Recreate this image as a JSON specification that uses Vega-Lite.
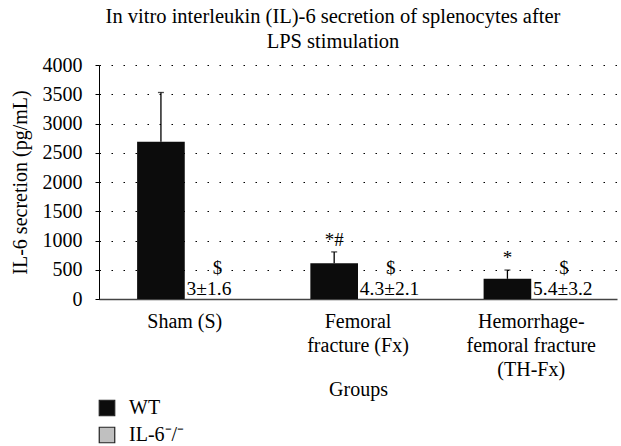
{
  "$schema": "https://vega.github.io/schema/vega-lite/v6.json",
  "width": 518,
  "height": 234,
  "autosize": {"type": "none"},
  "padding": {"left": 99, "top": 65, "right": 4, "bottom": 147},
  "background": "white",
  "title": {
    "text": ["In vitro interleukin (IL)-6 secretion of splenocytes after", "LPS stimulation"],
    "font": "Liberation Serif",
    "fontSize": 20.5,
    "fontWeight": "normal",
    "color": "black",
    "anchor": "middle",
    "dx": -25,
    "offset": 3,
    "lineHeight": 25
  },
  "config": {
    "view": {"stroke": null},
    "font": "Liberation Serif",
    "axis": {"labelFont": "Liberation Serif", "titleFont": "Liberation Serif", "labelColor": "black", "titleColor": "black", "titleFontWeight": "normal"},
    "axisY": {
      "titleFontSize": 20,
      "titlePadding": 12,
      "labelFontSize": 20,
      "labelOverlap": false,
      "labelFlush": false,
      "tickCount": 8,
      "format": "d",
      "domainColor": "black",
      "tickColor": "black",
      "tickSize": 4,
      "labelPadding": 13,
      "labelBaseline": "middle",
      "grid": true,
      "gridColor": "black",
      "gridDash": [1.5, 10.5],
      "gridWidth": 1.2
    },
    "legend": {"labelFont": "Liberation Serif"}
  },
  "data": {
    "values": [
      {"group": "Sham (S)", "genotype": "WT", "value": 2690, "err": 840, "sig": "", "label": ""},
      {"group": "Sham (S)", "genotype": "IL-6⁻/⁻", "value": 3, "err": 1.6, "sig": "$", "label": "3±1.6"},
      {"group": "Femoral fracture (Fx)", "genotype": "WT", "value": 610, "err": 195, "sig": "*#", "label": ""},
      {"group": "Femoral fracture (Fx)", "genotype": "IL-6⁻/⁻", "value": 4.3, "err": 2.1, "sig": "$", "label": "4.3±2.1"},
      {"group": "Hemorrhage-femoral fracture (TH-Fx)", "genotype": "WT", "value": 345, "err": 150, "sig": "*", "label": ""},
      {"group": "Hemorrhage-femoral fracture (TH-Fx)", "genotype": "IL-6⁻/⁻", "value": 5.4, "err": 3.2, "sig": "$", "label": "5.4±3.2"}
    ]
  },
  "transform": [{"calculate": "datum.value + datum.err", "as": "upper"}],
  "encoding": {
    "x": {
      "field": "group",
      "type": "nominal",
      "sort": ["Sham (S)", "Femoral fracture (Fx)", "Hemorrhage-femoral fracture (TH-Fx)"],
      "scale": {"paddingInner": 0.45, "paddingOuter": 0.22},
      "axis": {
        "title": "Groups",
        "titleFontSize": 20,
        "titlePadding": 0,
        "labelFontSize": 20,
        "labelAngle": 0,
        "labelPadding": 12,
        "labelLineHeight": 24,
        "ticks": false,
        "domainColor": "#444",
        "domainWidth": 1.5,
        "grid": false,
        "labelExpr": "datum.value == 'Femoral fracture (Fx)' ? ['Femoral', 'fracture (Fx)'] : datum.value == 'Hemorrhage-femoral fracture (TH-Fx)' ? ['Hemorrhage-', 'femoral fracture', '(TH-Fx)'] : datum.value"
      }
    },
    "xOffset": {"field": "genotype", "type": "nominal", "sort": ["WT", "IL-6⁻/⁻"], "scale": {"paddingInner": 0, "paddingOuter": 0}},
    "y": {
      "field": "value",
      "type": "quantitative",
      "title": "IL-6 secretion (pg/mL)",
      "scale": {"domain": [0, 4000], "nice": false}
    }
  },
  "layer": [
    {
      "mark": {"type": "bar", "strokeWidth": 0},
      "encoding": {
        "fill": {
          "field": "genotype",
          "type": "nominal",
          "sort": ["WT", "IL-6⁻/⁻"],
          "scale": {"domain": ["WT", "IL-6⁻/⁻"], "range": ["#0c0c0c", "#c0c0c0"]},
          "legend": {
            "title": null,
            "orient": "none",
            "legendX": -2,
            "legendY": 333,
            "padding": 0,
            "direction": "vertical",
            "symbolType": "square",
            "symbolSize": 240,
            "symbolStrokeColor": "#222",
            "symbolStrokeWidth": 1.2,
            "labelFontSize": 20,
            "labelColor": "black",
            "labelOffset": 12,
            "rowPadding": 5
          }
        }
      }
    },
    {
      "transform": [{"filter": "datum.genotype == 'WT'"}],
      "mark": {"type": "rule", "color": "black", "strokeWidth": 1.3},
      "encoding": {"y2": {"field": "upper"}}
    },
    {
      "transform": [{"filter": "datum.genotype == 'WT'"}],
      "mark": {"type": "tick", "color": "black", "size": 6, "thickness": 1.3},
      "encoding": {"y": {"field": "upper", "type": "quantitative", "title": "IL-6 secretion (pg/mL)"}}
    },
    {
      "transform": [{"filter": "datum.genotype == 'WT'"}],
      "mark": {"type": "text", "fontSize": 19, "baseline": "alphabetic", "dy": -6, "color": "black"},
      "encoding": {"y": {"field": "upper", "type": "quantitative", "title": "IL-6 secretion (pg/mL)"}, "text": {"field": "sig"}}
    },
    {
      "transform": [{"filter": "datum.genotype != 'WT'"}],
      "mark": {"type": "text", "fontSize": 19.5, "baseline": "alphabetic", "align": "left", "dx": -22, "dy": -4, "color": "black"},
      "encoding": {"y": {"datum": 0, "type": "quantitative", "title": "IL-6 secretion (pg/mL)"}, "text": {"field": "label"}}
    },
    {
      "transform": [{"filter": "datum.genotype != 'WT'"}],
      "mark": {"type": "text", "fontSize": 19, "baseline": "alphabetic", "align": "center", "dx": 9, "dy": -25, "color": "black"},
      "encoding": {"y": {"datum": 0, "type": "quantitative", "title": "IL-6 secretion (pg/mL)"}, "text": {"field": "sig"}}
    }
  ]
}
